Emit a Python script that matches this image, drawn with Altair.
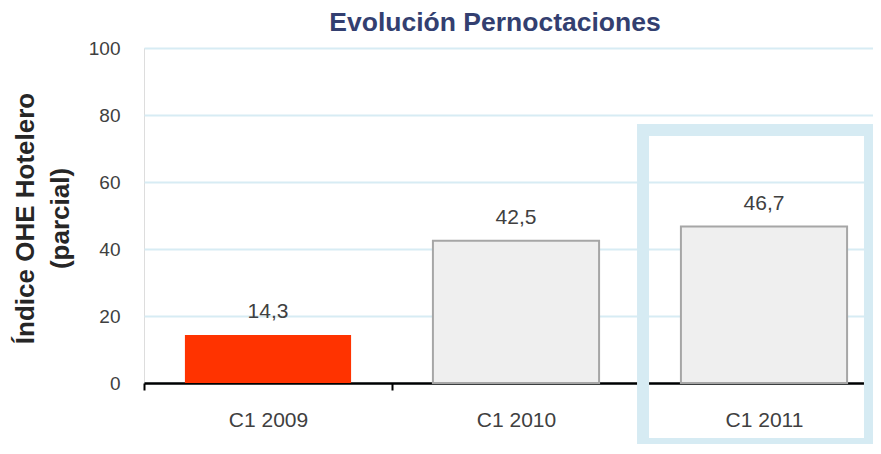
import altair as alt
import pandas as pd

categories = ["C1 2009", "C1 2010", "C1 2011"]
values = [14.3, 42.5, 46.7]
value_labels = ["14,3", "42,5", "46,7"]
fills = ["#ff3300", "#efefef", "#efefef"]
strokes = ["transparent", "#a6a6a6", "#a6a6a6"]

highlight_cat = ["C1 2011"]
highlight_top = [75.5]
highlight_bottom = [-18.2]

y_ticks = [0, 20, 40, 60, 80, 100]

df = pd.DataFrame({
    "cat": categories,
    "value": values,
    "label": value_labels,
    "fill": fills,
    "stroke": strokes,
})
hl = pd.DataFrame({"cat": highlight_cat, "top": highlight_top, "bottom": highlight_bottom})

FONT = "Liberation Sans"

x_enc = alt.X(
    "cat:N",
    sort=categories,
    scale=alt.Scale(domain=categories, range=[0, 744], paddingInner=0, paddingOuter=0),
    axis=alt.Axis(
        title=None, labelAngle=0, labelFontSize=21, labelColor="#404040", labelFont=FONT,
        domainColor="#000000", domainWidth=2.5, tickColor="#000000", tickWidth=2,
        tickSize=7, tickBand="extent", labelPadding=19, grid=False,
    ),
)
y_scale = alt.Scale(domain=[0, 100], nice=False, zero=True)
y_enc = alt.Y(
    "value:Q",
    scale=y_scale,
    axis=alt.Axis(
        title=["Índice OHE Hotelero", "(parcial)"], values=y_ticks, format="d",
        labelFontSize=19, labelColor="#404040", labelFont=FONT, labelPadding=24,
        ticks=False, domain=False, grid=True, gridColor="#d7ecf4", gridWidth=2,
        titleFont=FONT, titleFontSize=26, titleFontWeight="bold", titleColor="#262626",
        titleAngle=-90, titleBaseline="alphabetic", titleX=-111, titleY=170,
        titleLineHeight=35, titleAlign="center",
    ),
)

bars = alt.Chart(df).mark_bar(width=alt.RelativeBandSize(0.67), strokeWidth=2).encode(
    x=x_enc,
    y=y_enc,
    fill=alt.Fill("fill:N", scale=None),
    stroke=alt.Stroke("stroke:N", scale=None),
)

texts = alt.Chart(df).mark_text(
    baseline="alphabetic", dy=-17, fontSize=21, font=FONT, color="#404040"
).encode(
    x=alt.X("cat:N", sort=categories),
    y=alt.Y("value:Q"),
    text="label:N",
)

box = alt.Chart(hl).mark_rect(
    width=alt.RelativeBandSize(0.915), xOffset=-7.5, fill=None, fillOpacity=0,
    stroke="#d6ebf3", strokeWidth=12,
).encode(
    x=alt.X("cat:N", sort=categories),
    y=alt.Y("top:Q"),
    y2="bottom:Q",
)

chart = alt.layer(bars, texts, box).properties(
    width=729,
    height=335,
    title=alt.TitleParams(
        "Evolución Pernoctaciones", font=FONT, fontSize=26.5, fontWeight="bold",
        color="#333f70", anchor="middle", baseline="top", offset=0, dx=-13.5, dy=-3,
    ),
    autosize=alt.AutoSizeParams(type="none"),
    padding={"left": 136, "top": 40, "right": 0, "bottom": 61},
).configure_view(stroke=None).configure(background="white")

chart.save("out.html", embed_options={"renderer": "svg", "actions": False})
